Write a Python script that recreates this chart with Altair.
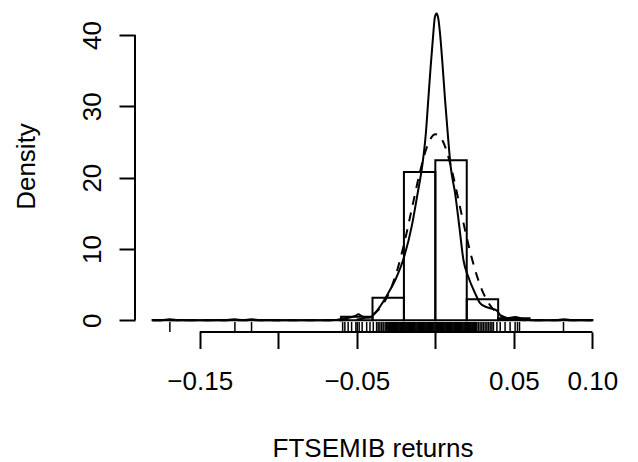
import altair as alt
import pandas as pd

# ---------------- data ----------------
BIN_LEFT = [-0.18, -0.16, -0.14, -0.12, -0.10, -0.08, -0.06, -0.04, -0.02, 0.00, 0.02, 0.04, 0.06, 0.08]
BIN_RIGHT = [-0.16, -0.14, -0.12, -0.10, -0.08, -0.06, -0.04, -0.02, 0.00, 0.02, 0.04, 0.06, 0.08, 0.10]
BIN_DENSITY = [0.05, 0.0, 0.05, 0.05, 0.0, 0.0, 0.5, 3.17, 20.8, 22.45, 2.94, 0.3, 0.0, 0.05]

KDE_X = [-0.18, -0.175, -0.169, -0.163, -0.135, -0.128, -0.1225, -0.117, -0.111, -0.07,
         -0.064, -0.06, -0.055, -0.051, -0.049, -0.047, -0.044, -0.0415, -0.0395, -0.035,
         -0.030, -0.025, -0.020, -0.015, -0.0115, -0.008, -0.006, -0.0045, -0.003, -0.0013,
         -0.0003, 0.0008, 0.0019, 0.0030, 0.0047, 0.0062, 0.0079, 0.0098, 0.0126, 0.0153,
         0.0179, 0.0210, 0.0253, 0.0285, 0.0320, 0.0349, 0.0390, 0.0423, 0.046, 0.049,
         0.051, 0.054, 0.057, 0.062, 0.076, 0.082, 0.088, 0.10]
KDE_Y = [0.0, 0.0, 0.15, 0.0, 0.0, 0.15, 0.02, 0.15, 0.0, 0.0,
         0.03, 0.2, 0.35, 0.6, 0.85, 0.6, 0.35, 0.4, 0.74, 2.0,
         3.8, 5.9, 8.8, 13.2, 17.5, 22.2, 26.3, 30.9, 35.5, 40.2,
         42.5, 43.0, 42.3, 40.2, 35.5, 30.9, 26.2, 21.5, 17.8, 13.1,
         8.45, 6.1, 3.8, 2.4, 1.9, 1.7, 1.4, 0.5, 0.3, 0.4,
         0.45, 0.3, 0.1, 0.02, 0.0, 0.15, 0.0, 0.0]

NORM_X = [-0.18, -0.07, -0.06, -0.05, -0.045, -0.04, -0.035, -0.03, -0.025, -0.02, -0.015,
          -0.01, -0.005, 0.0, 0.005, 0.01, 0.015, 0.02, 0.025, 0.03, 0.035, 0.04, 0.045,
          0.05, 0.06, 0.07, 0.10]
NORM_Y = [0.0, 0.0, 0.01, 0.11, 0.31, 0.79, 1.77, 3.57, 6.5, 10.6, 15.6,
          20.6, 24.5, 26.1, 25.0, 21.5, 16.6, 11.6, 7.3, 4.1, 2.06, 0.93, 0.38,
          0.14, 0.01, 0.0, 0.0]

RUG = [-0.169, -0.1276, -0.117,
       -0.059, -0.0576, -0.0555, -0.0533, -0.0506, -0.0497, -0.0485, -0.0466, -0.0437,
       -0.0416, -0.0395, -0.0374, -0.0364, -0.0353, -0.0342, -0.0332,
       -0.0320, -0.0313, -0.0307, -0.0301, -0.0296, -0.0290, -0.0284, -0.0279, -0.0272,
       -0.0266, -0.0261, -0.0255, -0.0249, -0.0243, -0.0238, -0.0232, -0.0226, -0.0221,
       -0.0215, -0.0209, -0.0203, -0.0198, -0.0192, -0.0186, -0.0180, -0.0175, -0.0169,
       -0.0163, -0.0157, -0.0152, -0.0146, -0.0140, -0.0134, -0.0129, -0.0123, -0.0117,
       -0.0111, -0.0106, -0.0100, -0.0094, -0.0088, -0.0083, -0.0077, -0.0071, -0.0065,
       -0.0060, -0.0054, -0.0048, -0.0042, -0.0037, -0.0031, -0.0025, -0.0019, -0.0014,
       -0.0008, -0.0002, 0.0004, 0.0009, 0.0015, 0.0021, 0.0027, 0.0032, 0.0038, 0.0044,
       0.0050, 0.0055, 0.0061, 0.0067, 0.0073, 0.0078, 0.0084, 0.0090, 0.0096, 0.0101,
       0.0107, 0.0113, 0.0119, 0.0124, 0.0130, 0.0136, 0.0142, 0.0147, 0.0153, 0.0159,
       0.0165, 0.0170, 0.0176, 0.0182, 0.0188, 0.0193, 0.0199, 0.0205, 0.0211, 0.0216,
       0.0222, 0.0228, 0.0234, 0.0239, 0.0245, 0.0251, 0.0257,
       0.0264, 0.0274, 0.0285, 0.0296, 0.0306, 0.0317, 0.0328, 0.0338, 0.0349, 0.0360,
       0.0370, 0.0392, 0.0413, 0.0444, 0.0476, 0.0508, 0.0523, 0.0536, 0.0816]

X_TICKS = [-0.15, -0.10, -0.05, 0.0, 0.05, 0.10]
X_LABELED = [-0.15, -0.05, 0.05, 0.10]
Y_TICKS = [0, 10, 20, 30, 40]

X_TITLE = "FTSEMIB returns"
Y_TITLE = "Density"

# ---------------- scales / axes ----------------
X_DOM = [-0.1912, 0.1112]
Y_DOM = [-1.64, 44.77]
RUG_TOP = -0.24

FONT = "Liberation Sans"
XS = alt.Scale(domain=X_DOM, nice=False, zero=False)
YS = alt.Scale(domain=Y_DOM, nice=False, zero=False)

common = dict(domain=False, grid=False, ticks=True, tickColor="black", tickWidth=2,
              labelColor="black", labelFont=FONT, labelFontSize=26,
              titleColor="black", titleFont=FONT, titleFontSize=26, titleFontWeight="normal",
              labelFlush=False, labelOverlap=False)

cond = " || ".join(f"abs(datum.value - ({v})) < 1e-9" for v in X_LABELED)
XA = alt.Axis(values=X_TICKS, format=".2f",
              labelExpr=f"({cond}) ? datum.label : ''",
              tickSize=16.5, labelPadding=41, labelBaseline="alphabetic", labelAlign="center",
              title=X_TITLE, titleY=124, titleBaseline="alphabetic", titleAlign="center",
              **common)
YA = alt.Axis(values=Y_TICKS, tickSize=16, labelAngle=270, labelAlign="center",
              labelBaseline="alphabetic", labelPadding=19,
              title=Y_TITLE, titleAngle=270, titleX=-101, titleY=165,
              titleAlign="center", titleBaseline="alphabetic",
              **common)


def xf(field):
    return alt.X(field, type="quantitative", scale=XS, axis=XA)


def yf(field):
    return alt.Y(field, type="quantitative", scale=YS, axis=YA)


def xd(v):
    return alt.XDatum(datum=v, type="quantitative", scale=XS, axis=XA)


def yd(v):
    return alt.YDatum(datum=v, type="quantitative", scale=YS, axis=YA)


hist_df = pd.DataFrame({"left": BIN_LEFT, "right": BIN_RIGHT, "density": BIN_DENSITY})
kde_df = pd.DataFrame({"x": KDE_X, "y": KDE_Y})
norm_df = pd.DataFrame({"x": NORM_X, "y": NORM_Y})
rug_df = pd.DataFrame({"r": RUG})
one = alt.Data(values=[{}])

hist = alt.Chart(hist_df).mark_rect(filled=False, stroke="black", strokeWidth=2).encode(
    x=xf("left"), x2="right", y=yf("density"), y2=alt.datum(0)
)

kde = alt.Chart(kde_df).mark_line(color="black", strokeWidth=2, interpolate="monotone").encode(
    x=xf("x"), y=yf("y")
)

norm = alt.Chart(norm_df).mark_line(color="black", strokeWidth=2, strokeDash=[9, 8],
                                    interpolate="monotone").encode(
    x=xf("x"), y=yf("y")
)

rug = alt.Chart(rug_df).mark_rule(color="black", strokeWidth=1.5).encode(
    x=xf("r"), y=yd(Y_DOM[0]), y2=alt.datum(RUG_TOP)
)

xline = alt.Chart(one).mark_rule(color="black", strokeWidth=2).encode(
    x=xd(min(X_TICKS)), x2=alt.datum(max(X_TICKS)), y=yd(Y_DOM[0])
)

yline = alt.Chart(one).mark_rule(color="black", strokeWidth=2).encode(
    x=xd(X_DOM[0]), y=yd(min(Y_TICKS)), y2=alt.datum(max(Y_TICKS))
)

chart = alt.layer(hist, kde, norm, rug, xline, yline).properties(
    width=475, height=331,
    autosize=alt.AutoSizeParams(type="none"),
    padding={"left": 135, "top": 1, "right": 28, "bottom": 130},
    background="white",
).configure_view(stroke=None)

chart.save("out.html", embed_options={"renderer": "svg", "actions": False})
